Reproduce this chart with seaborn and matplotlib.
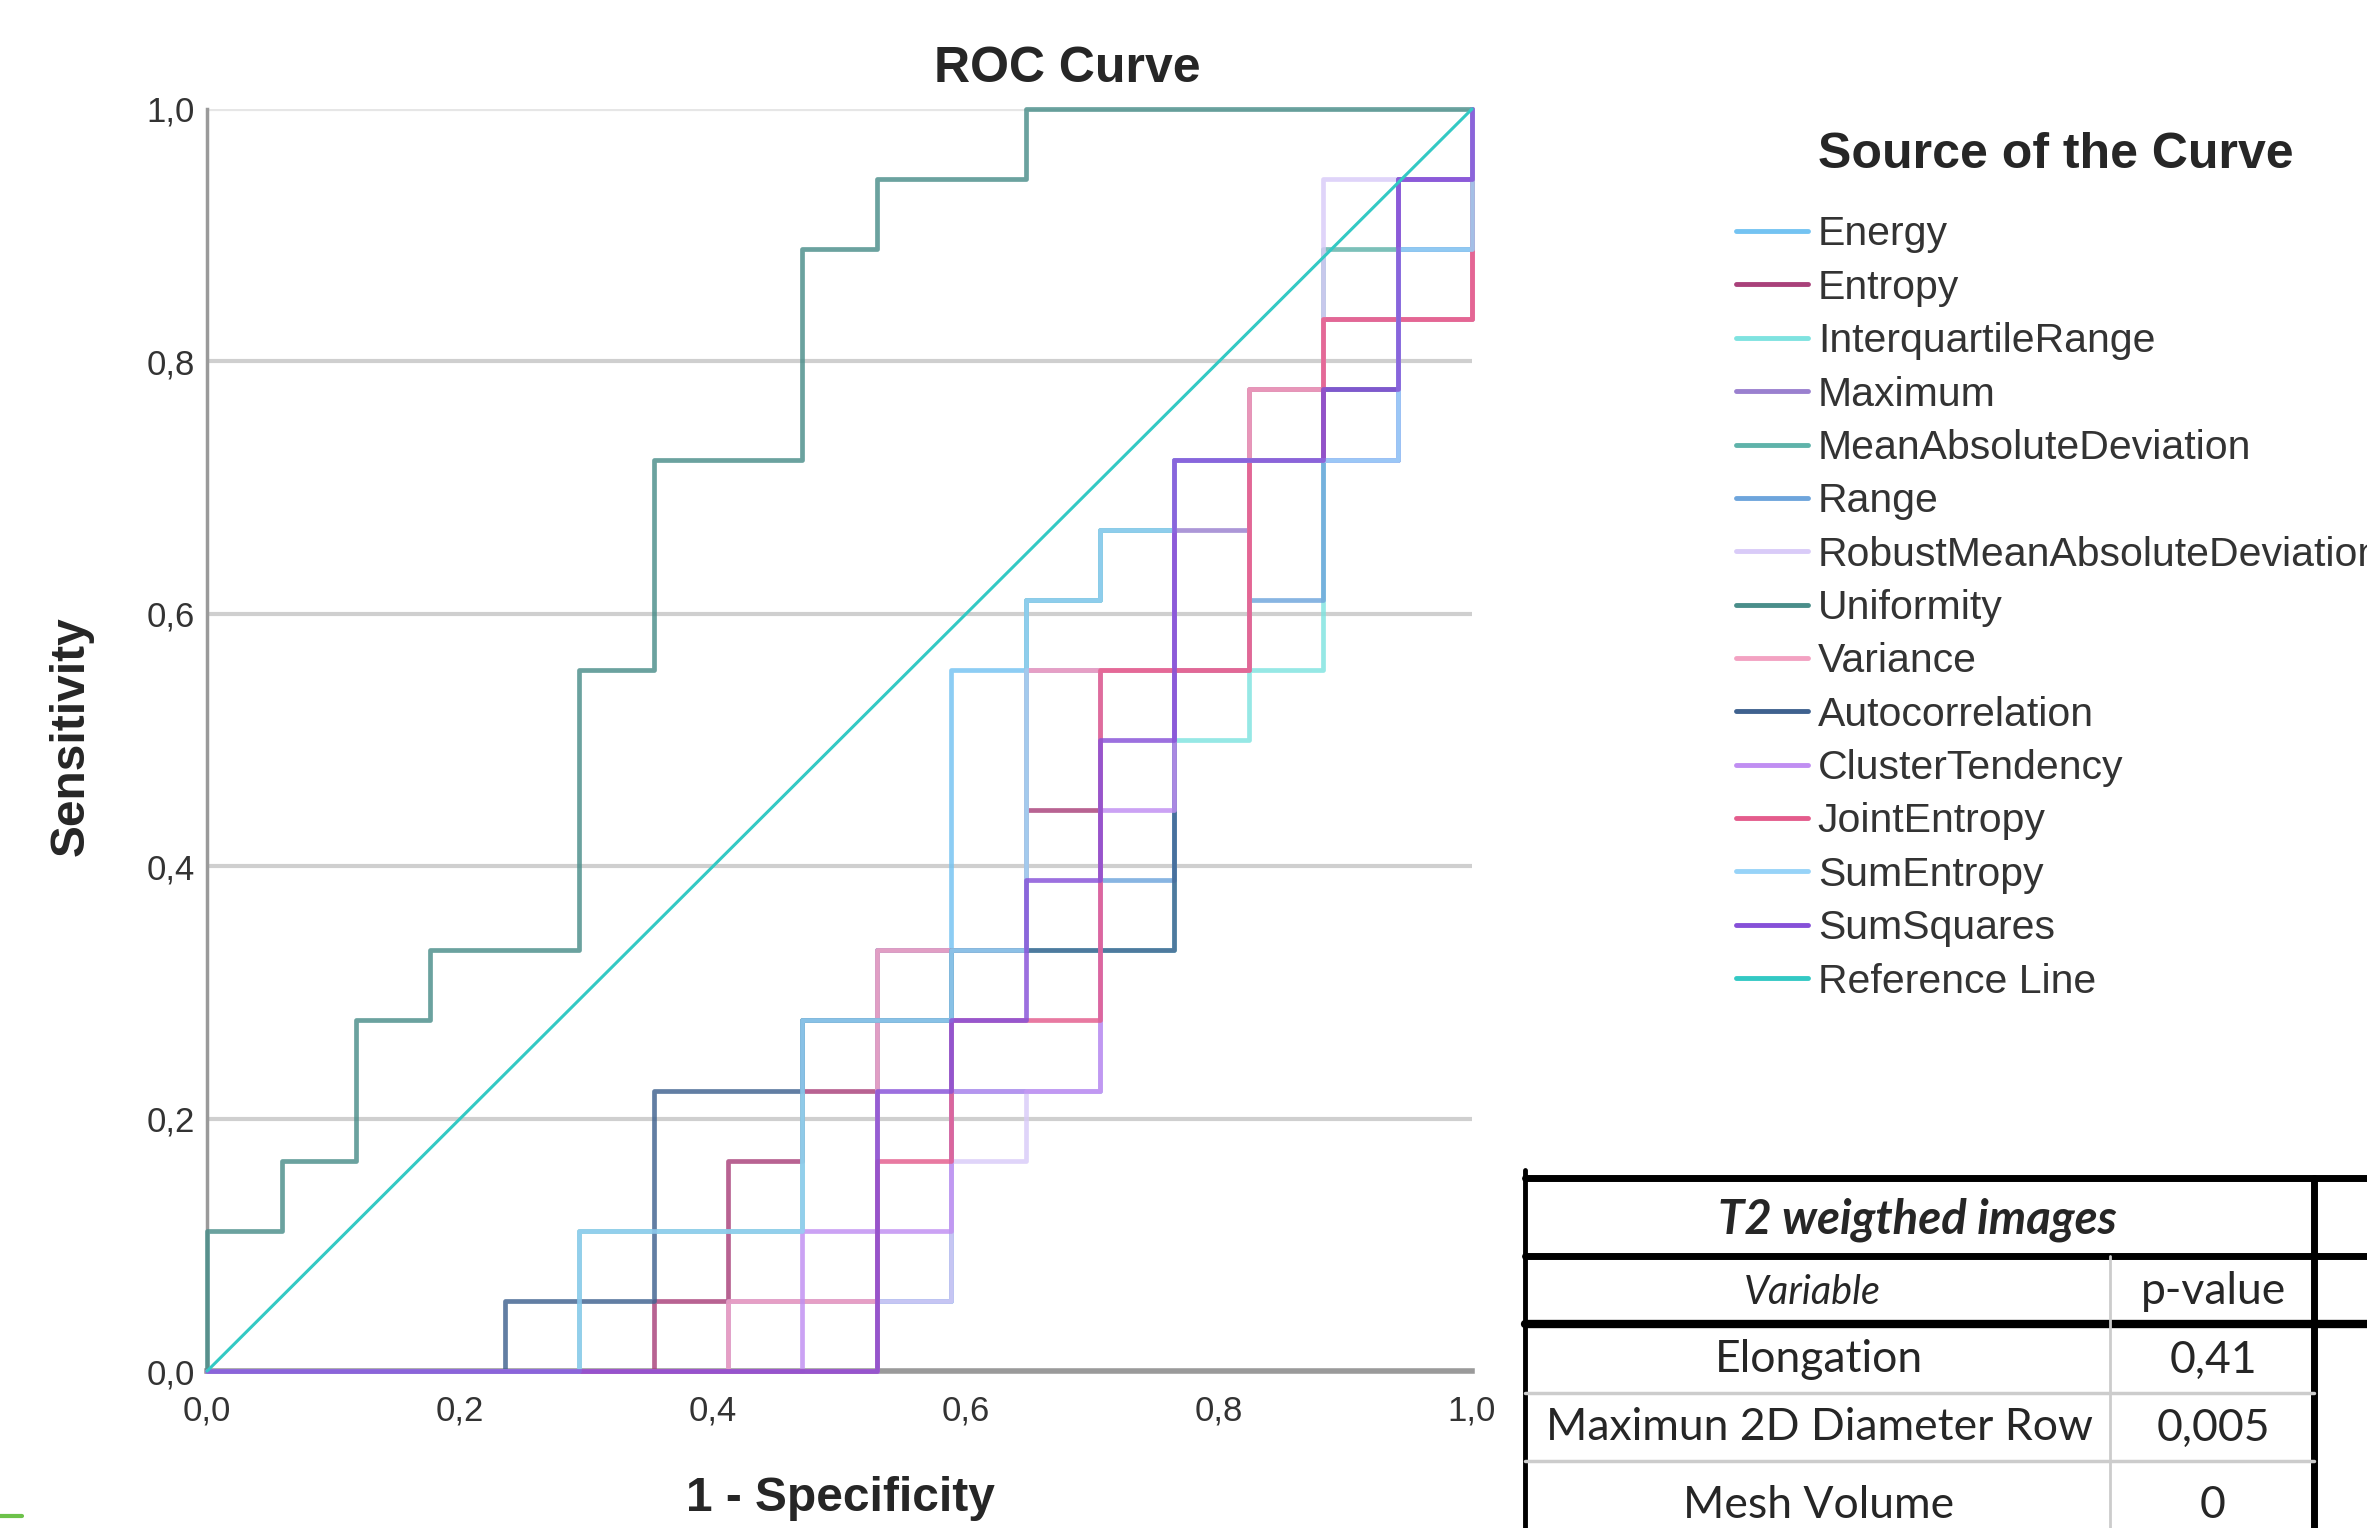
import matplotlib
matplotlib.use("Agg")
import matplotlib.pyplot as plt
import seaborn as sns
import pandas as pd
from matplotlib.lines import Line2D

# ROC staircases: step sizes come from the sample (17 negatives, 18 positives)
n_neg = 17
n_pos = 18

curve_names = ["Energy", "Entropy", "InterquartileRange", "Maximum",
               "MeanAbsoluteDeviation", "Range", "RobustMeanAbsoluteDeviation",
               "Uniformity", "Variance", "Autocorrelation", "ClusterTendency",
               "JointEntropy", "SumEntropy", "SumSquares"]
curve_colors = ["#74c3f2", "#a9417a", "#7fe3e0", "#9a80cf", "#5fb3aa", "#6ea5dc",
                "#d9cbf8", "#4a8e8a", "#f3a2c2", "#3f628f", "#c08ef2", "#e45c8c",
                "#97d3f8", "#8650d8"]
ref_color = "#33c9c4"

# corner points (false positive count, true positive count)
energy = [(0, 0), (9, 0), (9, 1), (10, 1), (10, 10), (11, 10), (11, 11), (12, 11), (12, 12),
          (13, 12), (13, 13), (16, 13), (16, 16), (17, 16), (17, 18)]
entropy = [(0, 0), (6, 0), (6, 1), (7, 1), (7, 3), (8, 3), (8, 4), (9, 4), (9, 6), (11, 6),
           (11, 8), (12, 8), (12, 10), (14, 10), (14, 14), (15, 14), (15, 15), (17, 15), (17, 18)]
interquartile_range = [(0, 0), (9, 0), (9, 6), (13, 6), (13, 9), (14, 9), (14, 10), (15, 10),
                       (15, 13), (16, 13), (16, 17), (17, 17), (17, 18)]
maximum = [(0, 0), (7, 0), (7, 1), (9, 1), (9, 6), (11, 6), (11, 10), (13, 10), (13, 12),
           (14, 12), (14, 13), (15, 13), (15, 15), (16, 15), (16, 16), (17, 16), (17, 18)]
mean_abs_dev = [(0, 0), (5, 0), (5, 2), (8, 2), (8, 5), (10, 5), (10, 6), (11, 6), (11, 11),
                (12, 11), (12, 12), (13, 12), (13, 13), (15, 13), (15, 16), (16, 16), (16, 17),
                (17, 17), (17, 18)]
range_ = [(0, 0), (9, 0), (9, 1), (10, 1), (10, 4), (12, 4), (12, 7), (13, 7), (13, 10),
          (14, 10), (14, 11), (15, 11), (15, 13), (16, 13), (16, 16), (17, 16), (17, 18)]
robust_mad = [(0, 0), (9, 0), (9, 1), (10, 1), (10, 3), (11, 3), (11, 4), (12, 4), (12, 10),
              (13, 10), (13, 13), (15, 13), (15, 17), (16, 17), (17, 17), (17, 18)]
uniformity = [(0, 0), (0, 2), (1, 2), (1, 3), (2, 3), (2, 5), (3, 5), (3, 6), (5, 6), (5, 10),
              (6, 10), (6, 13), (8, 13), (8, 16), (9, 16), (9, 17), (11, 17), (11, 18), (17, 18)]
variance = [(0, 0), (7, 0), (7, 1), (9, 1), (9, 6), (11, 6), (11, 10), (14, 10), (14, 14),
            (15, 14), (15, 15), (17, 15), (17, 18)]
autocorrelation = [(0, 0), (4, 0), (4, 1), (6, 1), (6, 4), (8, 4), (8, 5), (10, 5), (10, 6),
                   (13, 6), (13, 13), (15, 13), (15, 14), (16, 14), (16, 17), (17, 17), (17, 18)]
cluster_tendency = [(0, 0), (8, 0), (8, 2), (10, 2), (10, 4), (12, 4), (12, 8), (13, 8),
                    (13, 13), (16, 13), (16, 17), (17, 17), (17, 18)]
joint_entropy = [(0, 0), (9, 0), (9, 3), (10, 3), (10, 5), (12, 5), (12, 10), (14, 10),
                 (14, 13), (15, 13), (15, 15), (17, 15), (17, 18)]
sum_entropy = [(0, 0), (5, 0), (5, 2), (8, 2), (8, 5), (10, 5), (10, 6), (11, 6), (11, 11),
               (12, 11), (12, 12), (13, 12), (13, 13), (16, 13), (16, 16), (17, 16), (17, 18)]
sum_squares = [(0, 0), (9, 0), (9, 4), (10, 4), (10, 5), (11, 5), (11, 7), (12, 7), (12, 9),
               (13, 9), (13, 13), (15, 13), (15, 14), (16, 14), (16, 17), (17, 17), (17, 18)]

curves = [energy, entropy, interquartile_range, maximum, mean_abs_dev, range_, robust_mad,
          uniformity, variance, autocorrelation, cluster_tendency, joint_entropy,
          sum_entropy, sum_squares]

ticks = [0.0, 0.2, 0.4, 0.6, 0.8, 1.0]
tick_labels = ["0,0", "0,2", "0,4", "0,6", "0,8", "1,0"]

# table shown in the lower right corner of the picture
table_title = "T2 weigthed images"
table_header = ["Variable", "p-value"]
table_variables = ["Elongation", "Maximun 2D Diameter Row", "Mesh Volume"]
table_pvalues = ["0,41", "0,005", "0"]

# long table for seaborn
rows = []
for name, pts in zip(curve_names, curves):
    for k, (fp, tp) in enumerate(pts):
        rows.append({"curve": name, "step": k, "fpr": fp / n_neg, "tpr": tp / n_pos})
df = pd.DataFrame(rows)

sns.set_style("white")
plt.rcParams["font.family"] = ["Liberation Sans", "DejaVu Sans"]

fig = plt.figure(figsize=(23.67, 15.28), dpi=100)
ax = fig.add_axes([0.0875, 0.1027, 0.5344, 0.826])

sns.lineplot(data=df, x="fpr", y="tpr", hue="curve", hue_order=curve_names,
             palette=dict(zip(curve_names, curve_colors)), sort=False, estimator=None,
             linewidth=3.4, alpha=0.82, legend=False, clip_on=False, ax=ax, zorder=3)
sns.lineplot(x=[0, 1], y=[0, 1], color=ref_color, linewidth=2.2, ax=ax,
             clip_on=False, zorder=4)

ax.set_xlim(0, 1)
ax.set_ylim(0, 1)
ax.set_xticks(ticks)
ax.set_xticklabels(tick_labels)
ax.set_yticks(ticks)
ax.set_yticklabels(tick_labels)
ax.tick_params(length=0, labelsize=25, labelcolor="#333333")
ax.tick_params(axis="x", pad=17)
ax.tick_params(axis="y", pad=9)
ax.set_xlabel("")
ax.set_ylabel("")
ax.yaxis.grid(True, color="#cfcfcf", linewidth=3)
ax.xaxis.grid(False)
ax.get_ygridlines()[-1].set_color("#e6e6e6")
ax.set_axisbelow(True)
for s in ["top", "right"]:
    ax.spines[s].set_visible(False)
ax.spines["left"].set_color("#9a9a9a")
ax.spines["left"].set_linewidth(2.5)
ax.spines["bottom"].set_color("#9a9a9a")
ax.spines["bottom"].set_linewidth(4)

fig.text(0.451, 0.955, "ROC Curve", fontsize=36, fontweight="bold", ha="center", va="center")
fig.text(0.355, 0.019, "1 - Specificity", fontsize=34.5, fontweight="bold", ha="center", va="center")
fig.text(0.030, 0.518, "Sensitivity", fontsize=34.5, fontweight="bold", ha="center", va="center",
         rotation=90)

# legend: title as its own text, entries below it (the long label runs off the edge,
# as in the source picture)
fig.text(2056 / 2367, 1 - 155 / 1528, "Source of the Curve", fontsize=36, fontweight="bold",
         ha="center", va="center")
handles = [Line2D([], [], color=c, linewidth=3.5) for c in curve_colors]
handles.append(Line2D([], [], color=ref_color, linewidth=3.5))
labels = curve_names + ["Reference Line"]
leg = fig.legend(handles, labels, loc="upper left", bbox_to_anchor=(0.7334, 0.859),
                 frameon=False, fontsize=29.5, handlelength=1.75, handletextpad=0.25,
                 labelspacing=0.375, borderpad=0, borderaxespad=0)
for t in leg.get_texts():
    t.set_color("#333333")

# table drawn with figure lines
W, H = 2367, 1528


def fx(px):
    return px / W


def fy(py):
    return 1 - py / H


def hline(y, x0, x1, lw, color):
    fig.add_artist(Line2D([fx(x0), fx(x1)], [fy(y), fy(y)], color=color, linewidth=lw))


def vline(x, y0, y1, lw, color):
    fig.add_artist(Line2D([fx(x), fx(x)], [fy(y0), fy(y1)], color=color, linewidth=lw))


vline(1525, 1170, 1528, 3.5, "black")
hline(1178, 1525, 2367, 5, "black")
vline(2314, 1178, 1528, 5, "black")
hline(1256, 1525, 2367, 5, "black")
hline(1324, 1525, 2367, 6, "black")
hline(1393, 1525, 2314, 2.5, "#cccccc")
hline(1461, 1525, 2314, 2.5, "#cccccc")
vline(2110, 1256, 1528, 2, "#cccccc")

tfont = ["Lato", "DejaVu Sans"]
fig.text(fx(1917), fy(1220), table_title, fontsize=34, fontweight="bold", style="italic",
         ha="center", va="center", family=tfont)
fig.text(fx(1812), fy(1292), table_header[0], fontsize=28.5, style="italic",
         ha="center", va="center", family=tfont)
fig.text(fx(2213), fy(1292), table_header[1], fontsize=32, ha="center", va="center", family=tfont)
row_y = [1360, 1428, 1505]
for yv, var, pv in zip(row_y, table_variables, table_pvalues):
    fig.text(fx(1819), fy(yv), var, fontsize=32, ha="center", va="center", family=tfont)
    fig.text(fx(2213), fy(yv), pv, fontsize=32, ha="center", va="center", family=tfont)

# small green stroke at the lower-left edge
fig.add_artist(Line2D([0, fx(22)], [fy(1516), fy(1516)], color="#6cc24a", linewidth=3))

fig.savefig("out.png", dpi=100)
